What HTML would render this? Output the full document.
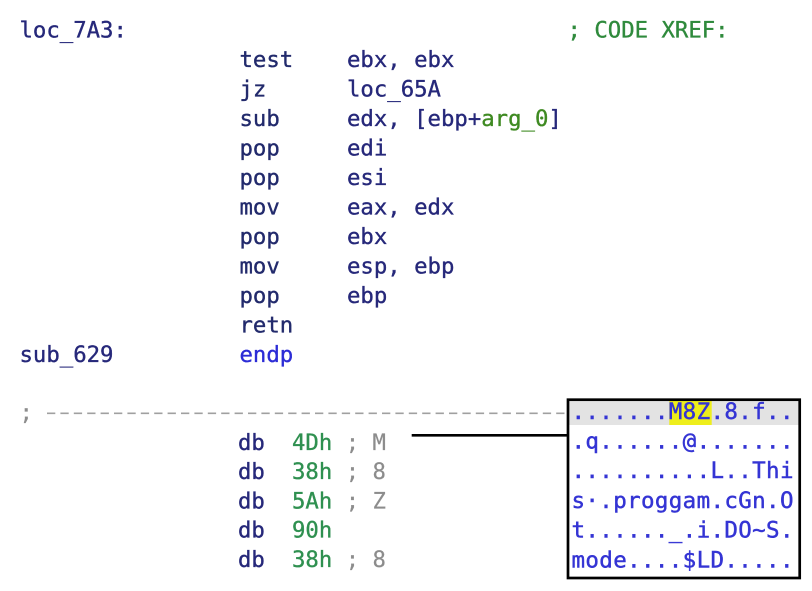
<!DOCTYPE html>
<html>
<head>
<meta charset="utf-8">
<style>
  html, body { margin: 0; padding: 0; background: #ffffff; }
  body { width: 812px; height: 591px; overflow: hidden; }
  svg { display: block; }
  text { font-family: "DejaVu Sans Mono", "Liberation Mono", monospace; font-size: 22.3px; white-space: pre; stroke-width: 0.35px; }
  .n { fill: #26287a; stroke: #26287a; }
  .m { fill: #222a6c; stroke: #222a6c; }
  .g { fill: #2f8a3c; stroke: #2f8a3c; }
  .ga { fill: #3f8a22; stroke: #3f8a22; }
  .gh { fill: #2f9050; stroke: #2f9050; }
  .gr { fill: #8c8c8c; stroke: #8c8c8c; stroke-width: 0.2px; }
  .b { fill: #2c2cd6; stroke: #2c2cd6; }
  .hx { font-size: 22.5px; letter-spacing: 0.35px; fill: #3434d4; stroke: #3434d4; stroke-width: 0.45px; }
</style>
</head>
<body>
<svg width="812" height="591" viewBox="0 0 812 591" xmlns="http://www.w3.org/2000/svg">
  <rect x="0" y="0" width="812" height="591" fill="#ffffff"/>

  <!-- label line -->
  <text x="19.5" y="37.5" class="n">loc_7A3:</text>
  <text x="567.5" y="37.5" class="g">; CODE XREF:</text>

  <!-- instructions -->
  <text x="239.5" y="67" class="m">test</text>
  <text x="347" y="67" class="n">ebx, ebx</text>

  <text x="239.5" y="96.5" class="m">jz</text>
  <text x="347" y="96.5" class="n">loc_65A</text>

  <text x="239.5" y="126" class="m">sub</text>
  <text x="347" y="126" class="n">edx, [ebp+<tspan class="ga">arg_0</tspan>]</text>

  <text x="239.5" y="155.5" class="m">pop</text>
  <text x="347" y="155.5" class="n">edi</text>

  <text x="239.5" y="185" class="m">pop</text>
  <text x="347" y="185" class="n">esi</text>

  <text x="239.5" y="214.5" class="m">mov</text>
  <text x="347" y="214.5" class="n">eax, edx</text>

  <text x="239.5" y="244" class="m">pop</text>
  <text x="347" y="244" class="n">ebx</text>

  <text x="239.5" y="273.5" class="m">mov</text>
  <text x="347" y="273.5" class="n">esp, ebp</text>

  <text x="239.5" y="303" class="m">pop</text>
  <text x="347" y="303" class="n">ebp</text>

  <text x="239.5" y="332.5" class="m">retn</text>

  <text x="19.5" y="362" class="n">sub_629</text>
  <text x="239.5" y="362" class="b">endp</text>

  <!-- separator -->
  <text x="19.5" y="420" class="gr">;</text>
  <line x1="47" y1="413.3" x2="566" y2="413.3" stroke="#a0a0a0" stroke-width="1.6" stroke-dasharray="8.3 5.1"/>

  <!-- db lines -->
  <text x="238" y="449.8" class="n">db</text>
  <text x="292" y="449.8" class="gh">4Dh</text>
  <text x="345.7" y="449.8" class="gr">; M</text>

  <text x="238" y="479.1" class="n">db</text>
  <text x="292" y="479.1" class="gh">38h</text>
  <text x="345.7" y="479.1" class="gr">; 8</text>

  <text x="238" y="508.4" class="n">db</text>
  <text x="292" y="508.4" class="gh">5Ah</text>
  <text x="345.7" y="508.4" class="gr">; Z</text>

  <text x="238" y="537.7" class="n">db</text>
  <text x="292" y="537.7" class="gh">90h</text>

  <text x="238" y="567" class="n">db</text>
  <text x="292" y="567" class="gh">38h</text>
  <text x="345.7" y="567" class="gr">; 8</text>

  <!-- connector -->
  <line x1="411.7" y1="435.3" x2="568" y2="435.3" stroke="#000000" stroke-width="2.6"/>

  <!-- hex dump box -->
  <rect x="569" y="401" width="229.5" height="24" fill="#e3e3e3"/>
  <rect x="669.3" y="401" width="42.4" height="24" fill="#eeee1c"/>
  <text x="571.5" y="418.8" class="hx">.......M8Z.8.f..</text>
  <text x="571.5" y="448.5" class="hx">.q......@.......</text>
  <text x="571.5" y="478.2" class="hx">..........L..Thi</text>
  <text x="571.5" y="507.9" class="hx">s·.proggam.cGn.O</text>
  <text x="571.5" y="537.6" class="hx">t......_.i.DO~S.</text>
  <text x="571.5" y="567.3" class="hx">mode....$LD.....</text>
  <rect x="568" y="399.7" width="231.7" height="178.3" fill="none" stroke="#000000" stroke-width="2.7"/>
</svg>
</body>
</html>
